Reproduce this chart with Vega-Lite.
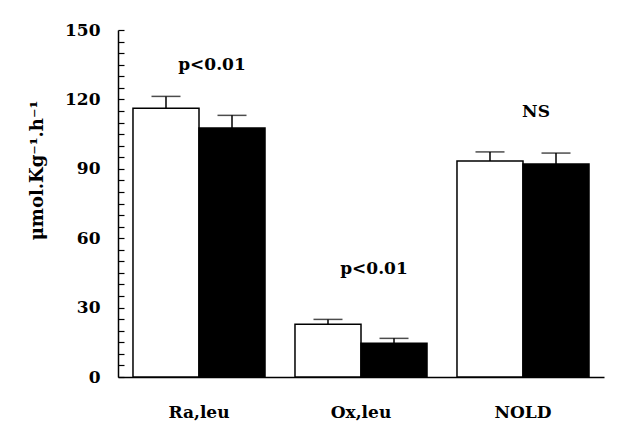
{
  "$schema": "https://vega.github.io/schema/vega-lite/v6.json",
  "width": 486,
  "height": 347,
  "autosize": {"type": "none"},
  "padding": {"left": 118, "top": 30, "right": 34, "bottom": 54},
  "background": "white",
  "config": {
    "view": {"stroke": null},
    "font": "DejaVu Serif",
    "axisY": {
      "labelOverlap": false, "labelFlush": false,
      "ticks": true, "tickSize": -6, "tickColor": "black", "tickWidth": 1.2,
      "grid": false,
      "domainColor": "black", "domainWidth": 1.5,
      "labelFont": "DejaVu Serif", "labelFontSize": 17, "labelFontWeight": "bold",
      "labelColor": "black", "labelPadding": 24,
      "titleFont": "DejaVu Serif", "titleFontSize": 18, "titleFontWeight": "bold",
      "titleColor": "black", "titleAngle": -90,
      "titleX": -81, "titleY": 140, "titleAlign": "center", "titleBaseline": "middle"
    },
    "axisX": {
      "ticks": false, "labelAngle": 0,
      "domainColor": "black", "domainWidth": 1.5,
      "labelFont": "DejaVu Serif", "labelFontSize": 17, "labelFontWeight": "bold",
      "labelColor": "black", "labelPadding": 27
    }
  },
  "datasets": {
    "bars": [
      {"group": "Ra,leu", "series": "A", "value": 116.2, "upper": 121.3},
      {"group": "Ra,leu", "series": "B", "value": 107.6, "upper": 113.1},
      {"group": "Ox,leu", "series": "A", "value": 22.8, "upper": 24.9},
      {"group": "Ox,leu", "series": "B", "value": 14.6, "upper": 16.7},
      {"group": "NOLD", "series": "A", "value": 93.4, "upper": 97.3},
      {"group": "NOLD", "series": "B", "value": 92.1, "upper": 96.8}
    ],
    "notes": [
      {"group": "Ra,leu", "label": "p<0.01", "y": 135},
      {"group": "Ox,leu", "label": "p<0.01", "y": 46.5},
      {"group": "NOLD", "label": "NS", "y": 114.5}
    ]
  },
  "layer": [
    {
      "data": {"name": "bars"},
      "mark": {"type": "bar", "stroke": "black", "strokeWidth": 1.5},
      "encoding": {
        "x": {
          "field": "group", "type": "nominal",
          "sort": ["Ra,leu", "Ox,leu", "NOLD"],
          "scale": {"paddingInner": 0, "paddingOuter": 0},
          "axis": {"title": null}
        },
        "xOffset": {
          "field": "series", "type": "nominal",
          "scale": {"paddingInner": 0, "paddingOuter": 0.227}
        },
        "y": {
          "field": "value", "type": "quantitative",
          "scale": {"domain": [0, 150], "nice": false},
          "axis": {
            "values": [0, 5, 10, 15, 20, 25, 30, 35, 40, 45, 50, 55, 60, 65, 70, 75, 80, 85, 90, 95, 100, 105, 110, 115, 120, 125, 130, 135, 140, 145, 150],
            "labelExpr": "datum.value % 30 === 0 ? datum.label : ''",
            "title": "μmol.Kg⁻¹.h⁻¹"
          }
        },
        "fill": {
          "field": "series", "type": "nominal",
          "scale": {"domain": ["A", "B"], "range": ["white", "black"]},
          "legend": null
        }
      }
    },
    {
      "data": {"name": "bars"},
      "mark": {"type": "rule", "color": "black", "strokeWidth": 1.5},
      "encoding": {
        "x": {"field": "group", "type": "nominal", "sort": ["Ra,leu", "Ox,leu", "NOLD"], "axis": {"title": null}},
        "xOffset": {"field": "series", "type": "nominal"},
        "y": {
          "field": "value", "type": "quantitative",
          "axis": {
            "values": [0, 5, 10, 15, 20, 25, 30, 35, 40, 45, 50, 55, 60, 65, 70, 75, 80, 85, 90, 95, 100, 105, 110, 115, 120, 125, 130, 135, 140, 145, 150],
            "labelExpr": "datum.value % 30 === 0 ? datum.label : ''",
            "title": "μmol.Kg⁻¹.h⁻¹"
          }
        },
        "y2": {"field": "upper"}
      }
    },
    {
      "data": {"name": "bars"},
      "mark": {"type": "tick", "color": "black", "size": 29, "thickness": 1.5},
      "encoding": {
        "x": {"field": "group", "type": "nominal", "sort": ["Ra,leu", "Ox,leu", "NOLD"], "axis": {"title": null}},
        "xOffset": {"field": "series", "type": "nominal"},
        "y": {
          "field": "upper", "type": "quantitative",
          "axis": {
            "values": [0, 5, 10, 15, 20, 25, 30, 35, 40, 45, 50, 55, 60, 65, 70, 75, 80, 85, 90, 95, 100, 105, 110, 115, 120, 125, 130, 135, 140, 145, 150],
            "labelExpr": "datum.value % 30 === 0 ? datum.label : ''",
            "title": "μmol.Kg⁻¹.h⁻¹"
          }
        }
      }
    },
    {
      "data": {"name": "notes"},
      "mark": {"type": "text", "font": "DejaVu Serif", "fontSize": 17, "fontWeight": "bold", "dx": 13, "baseline": "middle", "color": "black"},
      "encoding": {
        "x": {"field": "group", "type": "nominal", "sort": ["Ra,leu", "Ox,leu", "NOLD"], "axis": {"title": null}},
        "y": {
          "field": "y", "type": "quantitative",
          "axis": {
            "values": [0, 5, 10, 15, 20, 25, 30, 35, 40, 45, 50, 55, 60, 65, 70, 75, 80, 85, 90, 95, 100, 105, 110, 115, 120, 125, 130, 135, 140, 145, 150],
            "labelExpr": "datum.value % 30 === 0 ? datum.label : ''",
            "title": "μmol.Kg⁻¹.h⁻¹"
          }
        },
        "text": {"field": "label"}
      }
    }
  ]
}
